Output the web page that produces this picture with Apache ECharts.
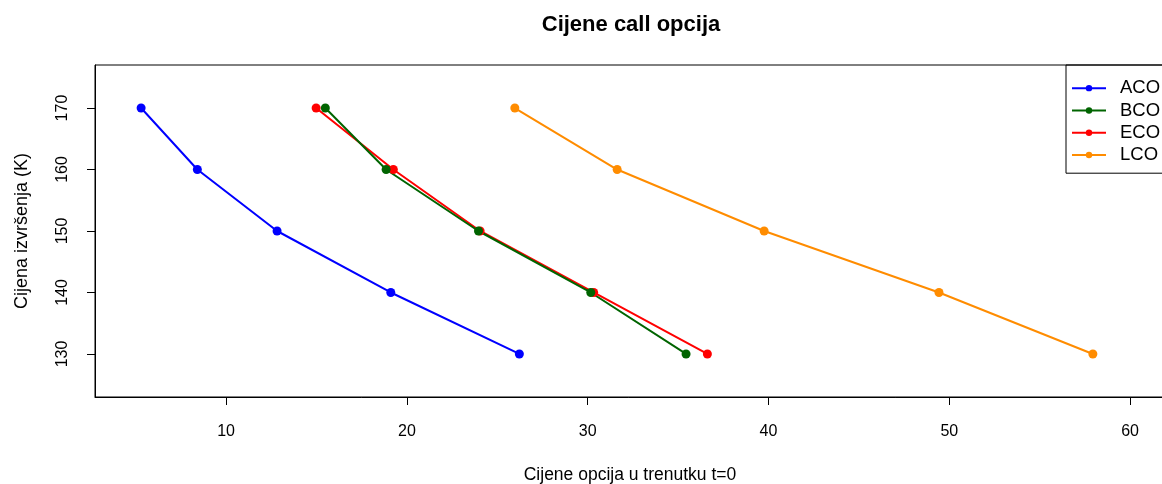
<!DOCTYPE html>
<html><head><meta charset="utf-8">
<script src="https://cdn.jsdelivr.net/npm/echarts@6/dist/echarts.min.js"></script>
<style>html,body{margin:0;padding:0;background:#fff}#c{width:1162px;height:484px}</style>
</head><body><div id="c"></div>
<script>
var strikes = [170, 160, 150, 140, 130];
var ACO = [5.30, 8.41, 12.82, 19.11, 26.22];
var BCO = [15.49, 18.85, 23.96, 30.17, 35.44];
var ECO = [14.98, 19.25, 24.05, 30.33, 36.62];
var LCO = [25.97, 31.63, 39.76, 49.43, 57.94];
var xTicks = [10, 20, 30, 40, 50, 60];
var yTicks = [130, 140, 150, 160, 170];
var names = ['ACO', 'BCO', 'ECO', 'LCO'];
var colors = {ACO: '#0000FF', BCO: '#006400', ECO: '#FF0000', LCO: '#FF8C00'};
var values = {ACO: ACO, BCO: BCO, ECO: ECO, LCO: LCO};
var font = 'Liberation Sans, Arial, sans-serif';

function mk(name) {
  return {
    name: name, type: 'line',
    data: values[name].map(function (v, i) { return [v, strikes[i]]; }),
    symbol: 'circle', symbolSize: 9,
    lineStyle: {width: 2, color: colors[name]},
    itemStyle: {color: colors[name]},
    emphasis: {disabled: true}
  };
}
var chart = echarts.init(document.getElementById('c'));
chart.setOption({
  animation: false,
  backgroundColor: '#fff',
  title: {text: 'Cijene call opcija', left: 626, top: 9, textAlign: 'center',
    textStyle: {fontFamily: font, fontSize: 22, fontWeight: 'bold', color: '#000'}},
  grid: {left: 95, top: 65, right: -3, bottom: 87, show: true, borderColor: '#000', borderWidth: 1,
    containLabel: false, outerBoundsMode: 'none'},
  legend: {
    data: names, orient: 'vertical', left: 1066, top: 65,
    borderColor: '#000', borderWidth: 1, padding: [13, 20, 8, 5],
    itemWidth: 34, itemHeight: 8, itemGap: 2,
    textStyle: {fontFamily: font, fontSize: 18.5, color: '#000', padding: [0, 0, 0, 9], lineHeight: 20.3}
  },
  xAxis: {
    type: 'value', min: 2.75, max: 61.93,
    name: 'Cijene opcija u trenutku t=0', nameLocation: 'middle', nameGap: 69,
    nameTextStyle: {fontFamily: font, fontSize: 17.5, color: '#000'},
    axisLine: {show: true, lineStyle: {color: '#000'}},
    axisTick: {show: true, inside: false, length: 8, customValues: xTicks, lineStyle: {color: '#000'}},
    axisLabel: {customValues: xTicks, fontFamily: font, fontSize: 16, color: '#000', margin: 27},
    splitLine: {show: false}
  },
  yAxis: {
    type: 'value', min: 123, max: 177,
    name: 'Cijena izvršenja (K)', nameLocation: 'middle', nameGap: 64, nameRotate: 90,
    nameTextStyle: {fontFamily: font, fontSize: 18, color: '#000'},
    axisLine: {show: true, lineStyle: {color: '#000'}},
    axisTick: {show: true, inside: false, length: 8, customValues: yTicks, lineStyle: {color: '#000'}},
    axisLabel: {customValues: yTicks, rotate: 90, fontFamily: font, fontSize: 16, color: '#000', margin: 24},
    splitLine: {show: false}
  },
  series: [mk('ACO'), mk('ECO'), mk('BCO'), mk('LCO')]
});
</script></body></html>
